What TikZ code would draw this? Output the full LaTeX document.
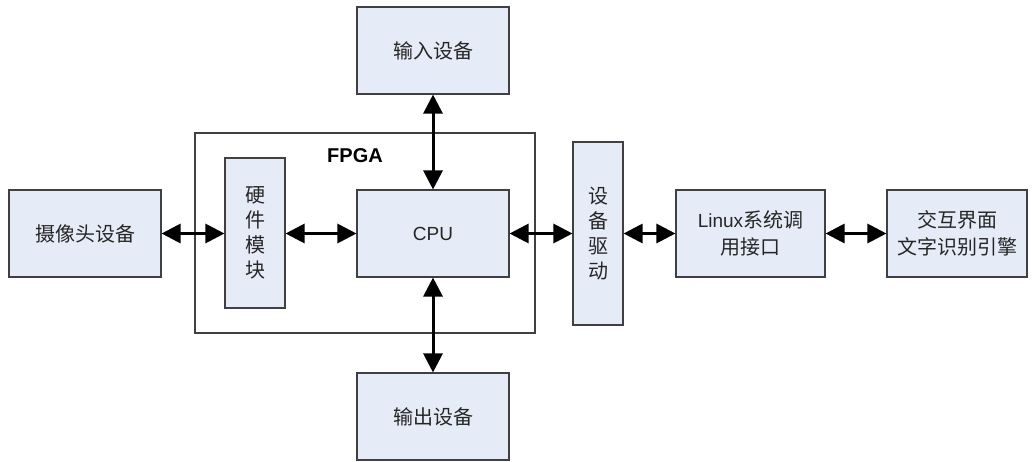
\documentclass[tikz,border=0pt]{standalone}
\usepackage{fontspec}
\setmainfont{Liberation Sans}
\newfontfamily\cjk{Noto Sans CJK SC}
\newfontfamily\lat{Liberation Sans}
\usetikzlibrary{arrows.meta}
\definecolor{boxfill}{HTML}{E6ECF7}
\definecolor{boxline}{HTML}{404040}
\tikzset{
  blk/.style={draw=boxline, line width=1.1pt, fill=boxfill, inner sep=0pt,
    align=center, text=black!85, font=\cjk\fontsize{20}{27}\selectfont},
  vblk/.style={blk, font=\cjk\fontsize{20}{25}\selectfont},
  link/.style={line width=3pt, {Triangle[length=19pt,width=19pt]}-{Triangle[length=19pt,width=19pt]}},
}
\begin{document}
\begin{tikzpicture}[x=1pt,y=-1pt]
\useasboundingbox (0,0) rectangle (1032,461);

% FPGA frame
\node[draw=boxline, line width=1.1pt, minimum width=340pt, minimum height=200pt, inner sep=0pt]
  (fpga) at (365,233) {};
\node[font=\lat\bfseries\fontsize{20}{24}\selectfont] (fpgalbl) at (355,156) {FPGA};

% blocks
\node[blk, minimum width=152pt, minimum height=87pt] (cam) at (85,233.5) {摄像头设备};
\node[vblk, minimum width=60pt, minimum height=150pt] (hw) at (255,233) {硬\\件\\模\\块};
\node[blk, minimum width=152pt, minimum height=87pt, font=\lat\fontsize{19}{24}\selectfont] (cpu) at (433,233.5) {CPU};
\node[blk, minimum width=152pt, minimum height=87pt] (in) at (433,50.5) {输入设备};
\node[blk, minimum width=152pt, minimum height=87pt] (out) at (433,416.5) {输出设备};
\node[vblk, minimum width=50pt, minimum height=183pt] (drv) at (598,233.5) {设\\备\\驱\\动};
\node[blk, minimum width=149pt, minimum height=87pt] (sys) at (750.5,233.5)
  {{\lat\fontsize{19}{27}\selectfont Linux}系统调\\用接口};
\node[blk, minimum width=140pt, minimum height=87pt] (ui) at (957,233.5) {交互界面\\文字识别引擎};

% connections
\draw[link] (cam.east) -- (cam.east -| hw.west);
\draw[link] (hw.east |- cpu.west) -- (cpu.west);
\draw[link] (cpu.east) -- (cpu.east -| drv.west);
\draw[link] (drv.east |- sys.west) -- (sys.west);
\draw[link] (sys.east) -- (ui.west);
\draw[link] (in.south) -- (cpu.north);
\draw[link] (cpu.south) -- (out.north);
\end{tikzpicture}
\end{document}
